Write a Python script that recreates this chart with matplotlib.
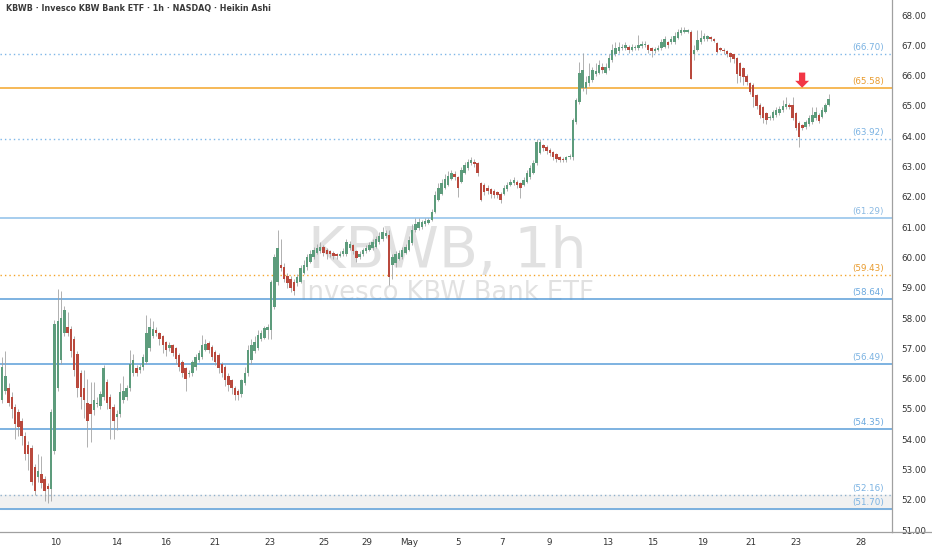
import matplotlib
matplotlib.use("Agg")
import matplotlib.pyplot as plt
from matplotlib.lines import Line2D
import numpy as np

# Heikin Ashi 1h candles
opens = [55.30, 55.60, 55.70, 55.40, 55.05, 54.90, 54.60, 54.10, 53.80, 53.70,
         53.10, 52.75, 52.85, 52.70, 52.45, 52.35, 53.60, 55.70, 56.60, 57.50,
         57.70, 57.65, 57.30, 56.80, 56.20, 55.70, 55.20, 55.15, 54.95, 55.15,
         55.10, 55.40, 55.90, 55.40, 55.05, 54.75, 54.85, 55.30,
         55.40, 55.70, 56.20, 56.35, 56.30, 56.40, 56.55,
         57.00, 57.40, 57.60, 57.50, 57.40, 57.20, 57.00,
         57.10, 57.00, 56.78, 56.55, 56.35, 56.15, 56.20, 56.40,
         56.60, 56.70, 56.95, 57.17, 57.04, 56.87, 56.78, 56.50, 56.38,
         56.10, 55.95, 55.70, 55.60, 55.50, 55.85, 56.18, 56.60, 56.90,
         57.00, 57.30, 57.34, 57.60, 57.60, 58.36, 59.19, 59.75, 59.68,
         59.40, 59.30, 59.20, 59.15, 59.20, 59.50, 59.70, 59.85, 60.00, 60.15,
         60.20, 60.35, 60.25, 60.20, 60.15, 60.10, 60.05, 60.10, 60.10, 60.30,
         60.40, 60.20, 60.00, 60.10, 60.20, 60.25, 60.30, 60.35, 60.50, 60.60,
         60.70, 60.74, 59.75, 59.80, 59.95, 60.00, 60.15, 60.24, 60.47, 60.90,
         60.97, 61.00, 61.10, 61.15, 61.23, 61.50, 61.90, 62.10, 62.30, 62.40,
         62.60, 62.75, 62.65, 62.50, 62.80, 62.95, 63.10, 63.15, 63.10, 62.45,
         62.40, 62.30, 62.25, 62.20, 62.15, 62.10, 62.10, 62.25, 62.40, 62.45,
         62.50, 62.45, 62.40, 62.50, 62.65, 62.80, 63.10, 63.45, 63.70, 63.65,
         63.55, 63.48, 63.40, 63.30, 63.25, 63.20, 63.30, 63.30, 64.47, 65.13,
         65.60, 65.60, 65.75, 65.85, 66.05, 66.10, 66.30, 66.10,
         66.25, 66.50, 66.70, 66.80, 66.90, 66.90, 66.95, 66.85, 66.90,
         66.92, 66.97, 67.00, 67.00, 66.90, 66.80, 66.85, 66.90, 66.95,
         67.10, 67.10, 67.10, 67.25, 67.40, 67.45, 67.45, 67.45, 66.70,
         66.85, 67.10, 67.20, 67.20, 67.28, 67.20, 67.07, 66.90, 66.85,
         66.82, 66.75, 66.70, 66.58, 66.40, 66.25, 66.00, 65.75, 65.70,
         65.35, 65.03, 64.96, 64.77, 64.60, 64.60, 64.70, 64.75, 64.87, 64.96,
         65.03, 65.03, 64.77, 64.44, 64.37, 64.30, 64.40, 64.47, 64.60, 64.70,
         64.63, 64.80, 65.03]
closes = [56.40, 56.10, 55.20, 55.00, 54.50, 54.40, 54.10, 53.50, 53.50, 52.60,
          52.30, 52.95, 52.55, 52.30, 52.35, 54.90, 57.80, 57.90, 58.00, 58.25,
          57.50, 56.90, 56.30, 55.70, 55.40, 55.30, 54.60, 54.85, 55.30, 55.20,
          55.50, 56.35, 55.20, 55.00, 54.60, 54.85, 55.55, 55.60,
          55.70, 56.50, 56.60, 56.20, 56.40, 56.70, 57.50,
          57.70, 57.65, 57.50, 57.30, 57.10, 56.95, 57.10,
          56.85, 56.65, 56.38, 56.18, 56.00, 56.20, 56.55, 56.70,
          56.85, 57.10, 57.15, 56.94, 56.70, 56.55, 56.35, 56.20, 55.95,
          55.80, 55.70, 55.46, 55.46, 55.95, 56.20, 56.94, 57.10, 57.20,
          57.43, 57.50, 57.67, 57.70, 59.19, 60.00, 60.30, 59.65, 59.30,
          59.15, 59.00, 58.90, 59.35, 59.65, 59.75, 60.00, 60.10, 60.25, 60.30,
          60.35, 60.15, 60.10, 60.10, 60.05, 60.05, 60.10, 60.20, 60.50, 60.45,
          60.20, 59.98, 60.10, 60.24, 60.30, 60.40, 60.50, 60.60, 60.70, 60.84,
          60.80, 59.35, 60.00, 60.10, 60.15, 60.24, 60.35, 60.57, 60.90, 61.10,
          61.17, 61.17, 61.20, 61.22, 61.50, 62.06, 62.30, 62.45, 62.60, 62.70,
          62.80, 62.65, 62.30, 62.90, 63.05, 63.15, 63.20, 63.08, 62.80, 61.90,
          62.15, 62.20, 62.10, 62.05, 62.05, 61.90, 62.30, 62.40, 62.50, 62.55,
          62.40, 62.30, 62.55, 62.80, 62.95, 63.10, 63.80, 63.80, 63.60, 63.50,
          63.45, 63.30, 63.25, 63.20, 63.20, 63.30, 63.35, 64.53, 65.19, 66.10,
          66.20, 65.80, 66.00, 66.20, 66.15, 66.35, 66.20, 66.28,
          66.58, 66.85, 66.90, 66.95, 66.95, 67.00, 66.85, 66.95, 66.95,
          67.02, 67.05, 67.05, 66.85, 66.80, 66.88, 66.90, 67.10, 67.20,
          67.00, 67.20, 67.30, 67.45, 67.50, 67.50, 67.50, 65.90, 66.85,
          67.17, 67.25, 67.30, 67.30, 67.22, 67.15, 66.78, 66.85, 66.80,
          66.70, 66.60, 66.55, 66.05, 66.00, 65.95, 65.80, 65.45, 65.30,
          65.00, 64.70, 64.60, 64.53, 64.65, 64.80, 64.85, 64.90, 65.00, 65.06,
          64.95, 64.60, 64.27, 63.97, 64.27, 64.47, 64.60, 64.70, 64.80, 64.50,
          64.86, 65.03, 65.23]
highs = [56.70, 56.90, 55.85, 55.55, 55.15, 55.00, 54.70, 54.25, 53.95, 53.80,
         53.20, 53.50, 53.45, 52.80, 52.55, 55.00, 57.95, 58.95, 58.90, 58.40,
         58.20, 57.75, 57.40, 56.90, 56.30, 56.30, 56.00, 55.90, 55.90, 55.40,
         55.60, 56.45, 56.00, 55.50, 55.15, 54.95, 55.85, 56.10,
         55.80, 56.95, 56.80, 56.45, 56.50, 56.80, 58.10,
         58.00, 57.90, 57.70, 57.55, 57.45, 57.25, 57.20,
         57.15, 57.05, 56.85, 56.60, 56.40, 56.30, 56.60, 56.80,
         56.95, 57.45, 57.30, 57.25, 57.10, 56.95, 56.85, 56.55, 56.45,
         56.20, 56.00, 55.75, 55.65, 56.00, 56.40, 57.10, 57.30, 57.40,
         57.60, 57.60, 57.75, 57.80, 59.25, 60.10, 60.90, 60.60, 59.80,
         59.50, 59.40, 59.30, 59.45, 59.75, 59.90, 60.10, 60.25, 60.35, 60.45,
         60.50, 60.40, 60.30, 60.25, 60.20, 60.15, 60.20, 60.30, 60.60, 60.55,
         60.45, 60.25, 60.20, 60.30, 60.40, 60.50, 60.60, 60.70, 60.85, 61.00,
         60.90, 60.90, 60.10, 60.20, 60.25, 60.35, 60.45, 60.70, 61.10, 61.30,
         61.30, 61.25, 61.30, 61.30, 61.60, 62.20, 62.45, 62.60, 62.75, 62.85,
         62.90, 62.85, 62.70, 63.00, 63.15, 63.25, 63.30, 63.25, 63.15, 62.50,
         62.45, 62.40, 62.30, 62.25, 62.20, 62.15, 62.40, 62.50, 62.60, 62.65,
         62.55, 62.50, 62.65, 62.90, 63.05, 63.20, 63.90, 63.90, 63.75, 63.70,
         63.60, 63.50, 63.45, 63.35, 63.30, 63.35, 63.40, 64.60, 65.25, 66.45,
         66.75, 66.00, 66.40, 66.30, 66.40, 66.50, 66.40, 66.40,
         66.70, 67.05, 67.10, 67.10, 67.05, 67.10, 67.00, 67.05, 67.00,
         67.35, 67.15, 67.15, 67.05, 66.95, 66.95, 67.00, 67.20, 67.30,
         67.15, 67.30, 67.45, 67.55, 67.60, 67.60, 67.55, 67.50, 67.00,
         67.50, 67.50, 67.40, 67.35, 67.30, 67.25, 67.10, 66.95, 66.90,
         66.85, 66.78, 66.72, 66.62, 66.45, 66.30, 66.05, 65.80, 65.75,
         65.40, 65.10, 65.00, 64.80, 64.70, 64.85, 64.95, 65.00, 65.20, 65.30,
         65.10, 65.30, 64.80, 64.50, 64.40, 64.55, 64.70, 64.95, 64.95, 64.75,
         64.95, 65.10, 65.40]
lows = [55.20, 55.50, 55.10, 54.70, 54.00, 54.10, 53.80, 53.30, 53.00, 52.50,
        52.15, 52.60, 52.40, 51.95, 51.90, 51.95, 53.50, 55.60, 56.50, 57.40,
        57.40, 56.70, 56.10, 55.40, 55.00, 54.70, 53.75, 53.90, 54.80, 55.05,
        55.00, 55.30, 55.00, 54.00, 54.00, 54.30, 54.75, 55.20,
        55.30, 55.60, 56.10, 56.10, 56.20, 56.30, 56.50,
        56.90, 57.35, 57.40, 57.10, 56.85, 56.75, 56.90,
        56.75, 56.50, 56.25, 56.05, 55.60, 56.05, 56.10, 56.30,
        56.55, 56.65, 56.90, 56.85, 56.60, 56.45, 56.20, 56.05, 55.75,
        55.60, 55.50, 55.30, 55.30, 55.40, 55.80, 56.10, 56.50, 56.85,
        56.95, 57.25, 57.30, 57.30, 57.30, 58.30, 59.10, 59.55, 59.20,
        59.00, 58.85, 58.75, 59.05, 59.15, 59.45, 59.60, 59.80, 59.95, 60.10,
        60.15, 60.05, 59.95, 60.00, 59.95, 59.95, 60.00, 60.05, 60.05, 60.25,
        60.10, 59.85, 59.95, 60.05, 60.15, 60.20, 60.25, 60.30, 60.45, 60.55,
        60.65, 59.10, 59.30, 59.70, 59.90, 59.95, 60.10, 60.20, 60.40, 60.85,
        60.90, 60.95, 61.05, 61.10, 61.20, 61.45, 61.85, 62.05, 62.25, 62.35,
        62.55, 62.55, 62.00, 62.45, 62.75, 62.90, 63.05, 63.00, 62.70, 61.85,
        62.05, 62.10, 61.95, 61.95, 61.95, 61.80, 62.05, 62.20, 62.35, 62.40,
        62.30, 61.95, 62.35, 62.45, 62.60, 62.75, 63.05, 63.40, 63.50, 63.40,
        63.35, 63.20, 63.15, 63.15, 63.15, 63.15, 63.25, 63.20, 64.40, 65.05,
        65.50, 65.40, 65.65, 65.80, 66.00, 66.05, 66.10, 66.05,
        66.20, 66.45, 66.65, 66.75, 66.85, 66.85, 66.75, 66.80, 66.85,
        66.85, 66.90, 66.95, 66.75, 66.60, 66.75, 66.80, 66.85, 66.90,
        66.90, 67.05, 67.05, 67.20, 67.35, 67.40, 67.40, 65.90, 66.50,
        66.80, 67.05, 67.15, 67.15, 67.15, 67.10, 66.75, 66.80, 66.72,
        66.60, 66.45, 66.40, 65.75, 65.80, 65.70, 65.70, 65.40, 64.95,
        64.90, 64.60, 64.45, 64.40, 64.55, 64.55, 64.65, 64.70, 64.80, 64.90,
        64.90, 64.55, 64.20, 63.65, 64.20, 64.25, 64.35, 64.40, 64.55, 64.45,
        64.60, 64.75, 65.00]

tick_pos = [16.2, 34.8, 49.7, 64.9, 81.7, 98.2, 111.3, 124.1, 139.0,
            152.4, 166.8, 184.5, 198.2, 213.4, 228.4, 242.1, 261.9]
tick_labels = ['10', '14', '16', '21', '23', '25', '29', 'May', '5',
               '7', '9', '13', '15', '19', '21', '23', '28']

levels = [66.70, 65.58, 63.92, 61.29, 59.43, 58.64, 56.49, 54.35, 52.16, 51.70]
level_style = [':', '-', ':', '-', ':', '-', '-', '-', ':', '-']
level_color = ['#7db6e8', '#f4a52a', '#7db6e8', '#8ec0ea', '#f4a52a',
               '#5a9ed9', '#5a9ed9', '#5a9ed9', '#8fb0cc', '#5a9ed9']
label_color = ['#7ab2e2', '#e89a2c', '#7ab2e2', '#8ab9e2', '#e89a2c',
               '#6aa8de', '#7ab2e2', '#6aa8de', '#7ab2e2', '#7ab2e2']

arrow_bar = 243.9
arrow_top = 66.10
arrow_tip = 65.60

opens = np.array(opens)
closes = np.array(closes)
highs = np.array(highs)
lows = np.array(lows)
x = np.arange(len(opens))
up = closes >= opens

fig = plt.figure(figsize=(9.32, 5.5), dpi=100)
ax = fig.add_axes([0, 18 / 550, 892 / 932, 532 / 550])

# support / resistance lines
ax.axhspan(51.70, 52.16, color='#f1f1f1', zorder=0)
for lv, ls, lc, tc in zip(levels, level_style, level_color, label_color):
    if ls == ':':
        ax.axhline(lv, color=lc, lw=1.0, linestyle=(0, (1, 2.2)), zorder=1)
    else:
        ax.axhline(lv, color=lc, lw=1.1, zorder=1)
    ax.annotate('(%.2f)' % lv, xy=(0.991, lv), xycoords=('axes fraction', 'data'),
                xytext=(0, 1.5), textcoords='offset points', ha='right', va='bottom',
                fontsize=6.3, color=tc)

# watermark
ax.text(0.501, 0.526, 'KBWB, 1h', transform=ax.transAxes, ha='center', va='center',
        fontsize=41, color='#dadada', alpha=0.8, zorder=0)
ax.text(0.501, 0.449, 'Invesco KBW Bank ETF', transform=ax.transAxes, ha='center',
        va='center', fontsize=18.5, color='#dadada', alpha=0.8, zorder=0)

# candles
green = '#5d9c7c'
red = '#b9493d'
ax.vlines(x, lows, highs, color='#a3a3a3', lw=0.6, zorder=2)
colors = np.where(up, green, red)
ax.bar(x, closes - opens, bottom=opens, width=0.75, color=colors, zorder=3)

# red marker arrow
ax.annotate('', xy=(arrow_bar, arrow_tip), xytext=(arrow_bar, arrow_top),
            arrowprops=dict(arrowstyle='simple,head_width=1.0,head_length=0.5,tail_width=0.45',
                            color='#f23645', lw=0, mutation_scale=10,
                            shrinkA=0, shrinkB=0), zorder=5)

ax.set_xlim(-0.61, 271.3)
ax.set_ylim(50.94, 68.495)

ax.yaxis.tick_right()
ax.set_yticks(np.arange(51, 69, 1))
ax.set_yticklabels(['%.2f' % v for v in np.arange(51, 69, 1)])
ax.tick_params(axis='y', length=0, pad=7, labelsize=6.3, labelcolor='#333333')
ax.set_xticks(tick_pos)
ax.set_xticklabels(tick_labels)
ax.tick_params(axis='x', length=0, pad=4, labelsize=6.3, labelcolor='#333333')

for s in ['top', 'left']:
    ax.spines[s].set_visible(False)
ax.spines['right'].set_color('#a0a0a0')
ax.spines['bottom'].set_color('#a0a0a0')
ax.spines['right'].set_linewidth(0.9)
ax.spines['bottom'].set_linewidth(0.9)
fig.add_artist(Line2D([892 / 932, 1], [18 / 550, 18 / 550], color='#a0a0a0', lw=0.9))

fig.text(6 / 932, 1 - 9 / 550, 'KBWB · Invesco KBW Bank ETF · 1h · NASDAQ · Heikin Ashi',
         ha='left', va='center', fontsize=5.8, fontweight='bold', color='#3a3a3a')

fig.savefig('out.png', dpi=100)
